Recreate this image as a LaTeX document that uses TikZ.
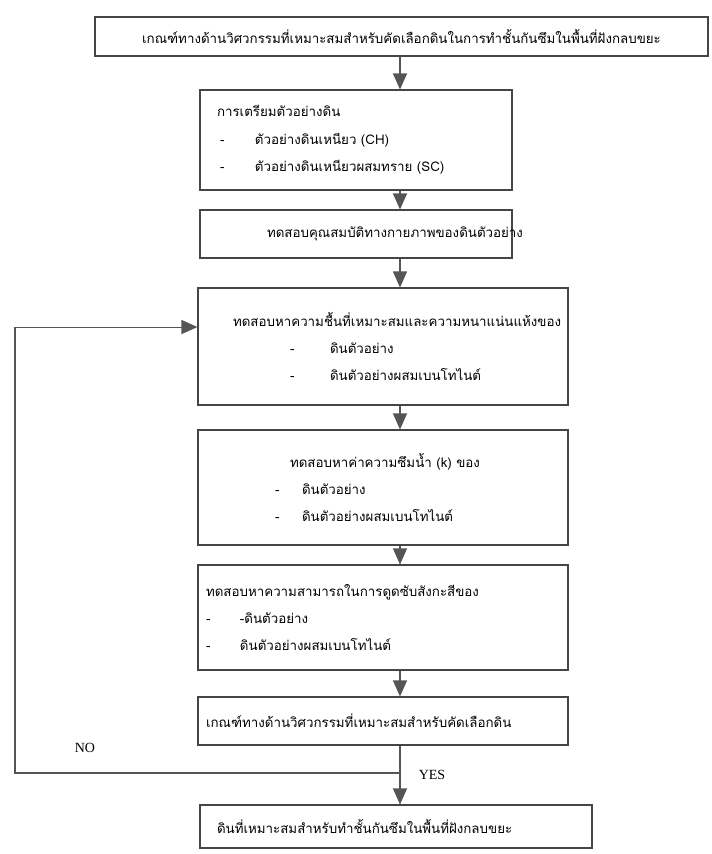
\documentclass[tikz,border=0pt]{standalone}
\usepackage{fontspec}
\setmainfont{Liberation Serif}
\newfontfamily\thaifont[Script=Thai]{Loma}
\usetikzlibrary{positioning, arrows.meta}
\definecolor{boxline}{HTML}{4A4248}
\definecolor{flowarrow}{HTML}{555555}
% one bulleted line inside a box: indent, gap after the dash, text
\newcommand{\dashitem}[3]{\hspace*{#1}\makebox[#2][l]{-}#3}

\begin{document}
\begin{tikzpicture}[x=0.75pt, y=-0.75pt,
    stepbox/.style={draw=boxline, line width=0.8pt, rectangle, inner xsep=0pt,
        inner ysep=2pt, align=left,
        font=\thaifont\fontsize{10}{20.5}\selectfont},
    flow/.style={draw=flowarrow, line width=0.8pt,
        -{Triangle[length=12pt, width=10.5pt]}},
    answer/.style={font=\rmfamily\fontsize{10.5}{12}\selectfont}]
\useasboundingbox (0,0) rectangle (712,854);
% Spine of the flow
\coordinate (spine) at (400,0);
% Boxes
\node[stepbox, text width=459.75pt, minimum height=29.25pt, align=center]
    (criteria) at (401.5,36.5)
    {เกณฑ์ทางด้านวิศวกรรมที่เหมาะสมสำหรับคัดเลือกดินในการทำชั้นกันซึมในพื้นที่ฝังกลบขยะ};
\node[stepbox, text width=234pt, minimum height=75pt] (prep) at (356,140)
    {\hspace*{12.75pt}การเตรียมตัวอย่างดิน\\
     \dashitem{15pt}{26.25pt}{ตัวอย่างดินเหนียว (CH)}\\
     \dashitem{15pt}{26.25pt}{ตัวอย่างดินเหนียวผสมทราย (SC)}};
\node[stepbox, text width=234pt, minimum height=36pt] (phys) at (356,234)
    {\hspace*{50.25pt}ทดสอบคุณสมบัติทางกายภาพของดินตัวอย่าง};
\node[stepbox, text width=277.5pt, minimum height=87.75pt] (compact) at (383,346.5)
    {\hspace*{26.25pt}ทดสอบหาความชื้นที่เหมาะสมและความหนาแน่นแห้งของ\\
     \dashitem{69pt}{30pt}{ดินตัวอย่าง}\\
     \dashitem{69pt}{30pt}{ดินตัวอย่างผสมเบนโทไนต์}};
\node[stepbox, text width=277.5pt, minimum height=86.25pt] (perm) at (383,487.5)
    {\hspace*{69pt}ทดสอบหาค่าความซึมน้ำ (k) ของ\\
     \dashitem{57.75pt}{20.25pt}{ดินตัวอย่าง}\\
     \dashitem{57.75pt}{20.25pt}{ดินตัวอย่างผสมเบนโทไนต์}};
\node[stepbox, text width=277.5pt, minimum height=78.75pt] (zinc) at (383,617.5)
    {\hspace*{6pt}ทดสอบหาความสามารถในการดูดซับสังกะสีของ\\
     \dashitem{6pt}{25.5pt}{-ดินตัวอย่าง}\\
     \dashitem{6pt}{25.5pt}{ดินตัวอย่างผสมเบนโทไนต์}};
\node[stepbox, text width=277.5pt, minimum height=36pt] (check) at (383,721)
    {\hspace*{6pt}เกณฑ์ทางด้านวิศวกรรมที่เหมาะสมสำหรับคัดเลือกดิน};
\node[stepbox, text width=294pt, minimum height=32.25pt] (result) at (396,826.5)
    {\hspace*{12.75pt}ดินที่เหมาะสมสำหรับทำชั้นกันซึมในพื้นที่ฝังกลบขยะ};
% Arrows down the spine
\draw[flow] (criteria.south -| spine) -- (prep.north -| spine);
\draw[flow] (prep.south -| spine) -- (phys.north -| spine);
\draw[flow] (phys.south -| spine) -- (compact.north -| spine);
\draw[flow] (compact.south -| spine) -- (perm.north -| spine);
\draw[flow] (perm.south -| spine) -- (zinc.north -| spine);
\draw[flow] (zinc.south -| spine) -- (check.north -| spine);
\draw[flow] (check.south -| spine) -- (result.north -| spine);
% NO loop back to the compaction test
\coordinate (split) at (400,773);
\coordinate (loopleft) at (15,773);
\coordinate (back) at ([yshift=14.6pt]compact.west);
\draw[flow] (split) -- (loopleft) |- (back);
% Answers
\node[answer] (no) at (85,748) {NO};
\node[answer] (yes) at (432,775) {YES};
\end{tikzpicture}
\end{document}
